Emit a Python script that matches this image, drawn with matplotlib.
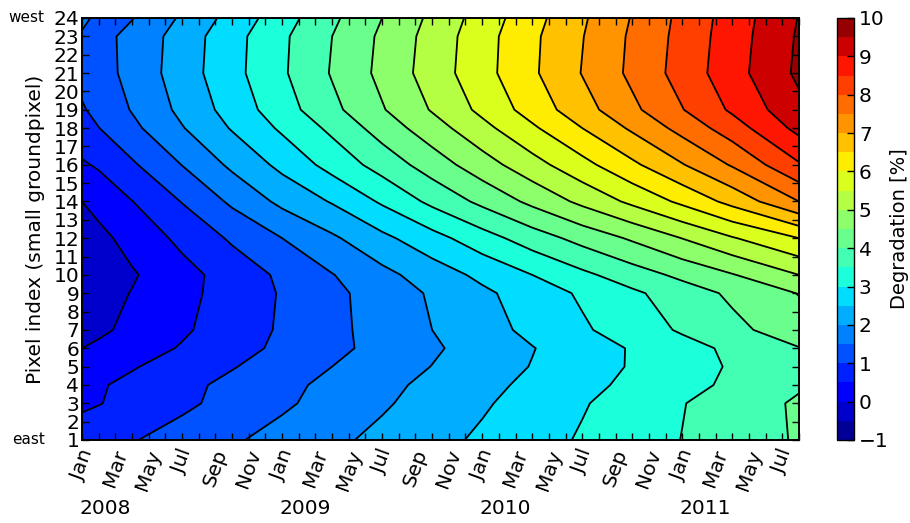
import matplotlib
matplotlib.use('Agg')
import matplotlib.pyplot as plt
import matplotlib.transforms as mtransforms
import numpy as np

# time axis: months since Jan 2008
months = [0, 1, 3, 6, 9, 12, 15, 18, 21, 24, 27, 30, 33, 36, 39, 43]
pixels = [1, 3, 4, 5, 6, 7, 9, 10, 12, 14, 16, 18, 19, 21, 23, 24]

# degradation [%] per ground pixel
px01 = [0.74, 0.82, 0.97, 1.20, 1.44, 1.67, 1.90, 2.12, 2.35, 2.58, 2.81, 3.05, 3.28, 3.51, 3.74, 4.05]
px03 = [0.42, 0.48, 0.64, 0.90, 1.16, 1.42, 1.68, 1.94, 2.19, 2.44, 2.70, 2.96, 3.22, 3.48, 3.73, 4.07]
px04 = [0.35, 0.45, 0.62, 0.87, 1.12, 1.37, 1.62, 1.87, 2.12, 2.36, 2.61, 2.86, 3.11, 3.35, 3.59, 3.94]
px05 = [0.17, 0.27, 0.46, 0.72, 0.97, 1.23, 1.50, 1.75, 2.01, 2.26, 2.52, 2.78, 3.04, 3.29, 3.55, 3.85]
px06 = [0.00, 0.09, 0.27, 0.54, 0.82, 1.10, 1.37, 1.66, 1.93, 2.21, 2.48, 2.76, 3.04, 3.32, 3.60, 3.98]
px07 = [-0.20, -0.09, 0.12, 0.43, 0.74, 1.06, 1.37, 1.69, 2.00, 2.31, 2.62, 2.93, 3.25, 3.56, 3.87, 4.28]
px09 = [-0.32, -0.20, 0.02, 0.36, 0.70, 1.04, 1.38, 1.72, 2.06, 2.40, 2.74, 3.07, 3.41, 3.75, 4.09, 4.52]
px10 = [-0.43, -0.30, -0.05, 0.33, 0.71, 1.09, 1.48, 1.86, 2.24, 2.62, 3.00, 3.39, 3.76, 4.12, 4.47, 5.00]
px12 = [-0.28, -0.13, 0.17, 0.62, 1.07, 1.50, 1.92, 2.38, 2.82, 3.29, 3.75, 4.17, 4.57, 5.01, 5.46, 6.00]
px14 = [0.00, 0.16, 0.49, 1.02, 1.59, 2.12, 2.54, 3.07, 3.62, 4.12, 4.62, 5.12, 5.61, 6.11, 6.66, 7.50]
px16 = [0.44, 0.56, 0.93, 1.51, 2.10, 2.63, 3.18, 3.70, 4.24, 4.78, 5.31, 5.84, 6.40, 6.97, 7.55, 8.45]
px18 = [0.80, 0.99, 1.38, 1.97, 2.54, 3.08, 3.61, 4.22, 4.78, 5.35, 5.92, 6.50, 7.08, 7.67, 8.26, 9.15]
px19 = [0.95, 1.14, 1.53, 2.12, 2.70, 3.28, 3.87, 4.46, 5.04, 5.62, 6.21, 6.80, 7.39, 7.98, 8.58, 9.37]
px21 = [1.15, 1.30, 1.65, 2.25, 2.84, 3.43, 4.04, 4.63, 5.23, 5.82, 6.42, 7.02, 7.61, 8.20, 8.80, 9.60]
px23 = [1.45, 1.35, 1.63, 2.22, 2.82, 3.41, 4.00, 4.59, 5.19, 5.80, 6.40, 6.98, 7.58, 8.16, 8.76, 9.56]
px24 = [1.60, 1.40, 1.48, 2.07, 2.68, 3.28, 3.90, 4.50, 5.11, 5.72, 6.32, 6.93, 7.53, 8.13, 8.73, 9.52]

month_names = ['Jan', 'Mar', 'May', 'Jul', 'Sep', 'Nov']
years = ['2008', '2009', '2010', '2011']

Z = np.array([px01, px03, px04, px05, px06, px07, px09, px10,
              px12, px14, px16, px18, px19, px21, px23, px24])
levels = np.arange(-1, 10.01, 0.5)

fs = 14.5

fig = plt.figure(figsize=(9.1, 5.23), dpi=100)
ax = fig.add_axes([0.0901, 0.1587, 0.7879, 0.8069])
cax = fig.add_axes([0.9198, 0.1587, 0.0187, 0.8069])

cf = ax.contourf(months, pixels, Z, levels=levels, cmap='jet')
ax.contour(months, pixels, Z, levels=levels, colors='k', linewidths=1.3)

ax.set_xlim(0, 43)
ax.set_ylim(1, 24)

# one tick per month, label every second one
xt = list(range(0, 44))
xl = []
for i in xt:
    xl.append(month_names[(i % 12) // 2] if i % 2 == 0 else '')
ax.set_xticks(xt)
ax.set_xticklabels(xl, rotation=70, fontsize=fs)
ax.set_yticks(range(1, 25))
ax.set_yticklabels([str(i) for i in range(1, 25)], fontsize=fs)
ax.tick_params(direction='in', top=True, right=True, length=5, width=1)
ax.tick_params(axis='x', pad=5)
ax.tick_params(axis='y', pad=2)
for s in ax.spines.values():
    s.set_linewidth(1.4)

ax.set_ylabel('Pixel index (small groundpixel)', fontsize=fs, labelpad=6)

trans = mtransforms.blended_transform_factory(ax.transData, ax.transAxes)
for i, yr in enumerate(years):
    ax.text(12 * i + 1.4, -0.163, yr, transform=trans, ha='center', va='center', fontsize=fs)

ax.text(-0.052, 1.0, 'west', transform=ax.transAxes, ha='right', va='center', fontsize=11)
ax.text(-0.052, 0.0, 'east', transform=ax.transAxes, ha='right', va='center', fontsize=11)

cb = fig.colorbar(cf, cax=cax, ticks=range(-1, 11))
cb.ax.tick_params(direction='in', length=5, width=1, labelsize=fs)
cb.outline.set_linewidth(1.0)
cb.set_label('Degradation [%]', fontsize=14, labelpad=1)

fig.savefig('out.png', dpi=100, facecolor='white')
